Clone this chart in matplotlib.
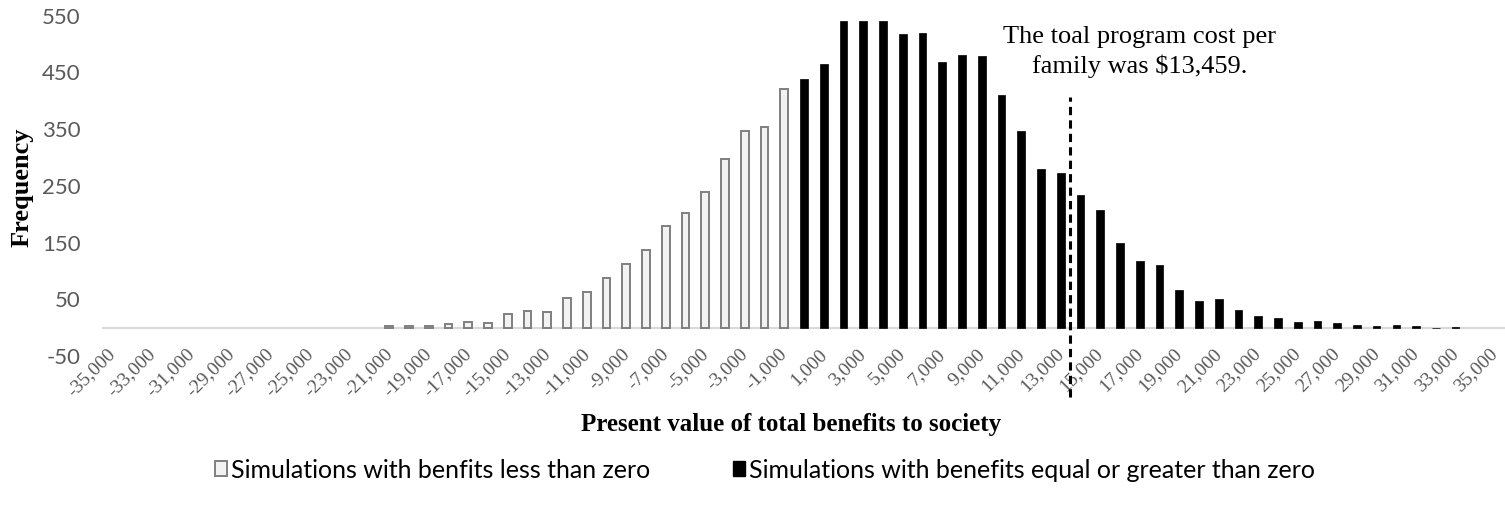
import matplotlib
matplotlib.use("Agg")
import matplotlib.pyplot as plt
from matplotlib.patches import Patch

# ---- data ----
categories = list(range(-35000, 35001, 1000))          # histogram bins
tick_values = list(range(-35000, 35001, 2000))         # labelled bins
tick_labels = [f"{v:,}" for v in tick_values]

neg_bins = list(range(-21000, 0, 1000))
neg_counts = [3, 3, 3, 7, 10, 9, 24, 29, 28, 52, 62, 87, 112, 137, 179, 202,
              240, 297, 346, 354, 420]

pos_bins = list(range(0, 34000, 1000))
pos_counts = [439, 464, 541, 540, 540, 518, 520, 468, 481, 479,
              410, 346, 280, 273, 234, 207, 149, 117, 110, 66,
              47, 51, 31, 20, 17, 10, 11, 9, 4, 3,
              4, 3, 0, 1]

program_cost = 13459
y_ticks = [-50, 50, 150, 250, 350, 450, 550]

neg_label = "Simulations with benfits less than zero"
pos_label = "Simulations with benefits equal or greater than zero"
x_title = "Present value of total benefits to society"
y_title = "Frequency"
note_lines = ["The toal program cost per", "family was $13,459."]

# ---- figure ----
W, H = 1505, 508
fig = plt.figure(figsize=(W / 100, H / 100), dpi=100)
ax = fig.add_axes([103 / W, 1 - 356 / H, 1402 / W, 340.3 / H])

pos_index = {v: i for i, v in enumerate(categories)}
neg_x = [pos_index[b] for b in neg_bins]
pos_x = [pos_index[b] for b in pos_bins]

bw = 0.39
ax.bar(neg_x, neg_counts, width=bw, color="#F2F2F2", edgecolor="#7F7F7F",
       linewidth=1.4, zorder=3)
ax.bar(pos_x, pos_counts, width=bw, color="black", edgecolor="black",
       linewidth=0.5, zorder=3)

ax.set_xlim(-0.5, len(categories) - 0.5)
ax.set_ylim(-50, 550)

for name in ("top", "left", "right"):
    ax.spines[name].set_visible(False)
ax.spines["bottom"].set_position(("data", 0))
ax.spines["bottom"].set_color("#D9D9D9")
ax.spines["bottom"].set_linewidth(1.5)
ax.spines["bottom"].set_zorder(2)

ax.set_yticks(y_ticks)
ax.set_yticklabels([str(v) for v in y_ticks], fontfamily="Lato",
                   fontsize=16, color="#595959")
ax.set_xticks([pos_index[v] for v in tick_values])
ax.set_xticklabels(tick_labels, rotation=45, ha="right", va="center",
                   rotation_mode="anchor", fontfamily="Liberation Serif",
                   fontsize=14, color="#595959")
ax.tick_params(axis="both", length=0)
ax.tick_params(axis="y", pad=16)
ax.tick_params(axis="x", pad=17)

# program cost line
cost_x = (program_cost - categories[0]) / 1000
ax.plot([cost_x, cost_x], [-122, 406], color="black", linewidth=2.2,
        linestyle=(0, (2.7, 1.7)), clip_on=False, zorder=4)

# annotation
fig.text(1139.5 / W, 1 - 43 / H, note_lines[0], ha="center", va="baseline",
         fontfamily="Liberation Serif", fontsize=19)
fig.text(1139.5 / W, 1 - 73 / H, note_lines[1], ha="center", va="baseline",
         fontfamily="Liberation Serif", fontsize=19)

# axis titles
fig.text(791 / W, 1 - 425 / H, x_title, ha="center", va="center",
         fontfamily="Liberation Serif", fontweight="bold", fontsize=18)
fig.text(22 / W, 1 - 187 / H, y_title, ha="center", va="center",
         rotation=90, fontfamily="Liberation Serif", fontweight="bold",
         fontsize=19)

# legend
handles = [Patch(facecolor="#F2F2F2", edgecolor="#7F7F7F", linewidth=1.4),
           Patch(facecolor="black", edgecolor="black")]
fig.legend(handles, [neg_label, pos_label], loc="center",
           bbox_to_anchor=(765 / W, 1 - 470 / H), ncol=2, frameon=False,
           prop={"family": "Lato", "size": 18}, handlelength=0.5,
           handleheight=0.55, handletextpad=0.15, columnspacing=3.3)

fig.savefig("out.png", dpi=100)
